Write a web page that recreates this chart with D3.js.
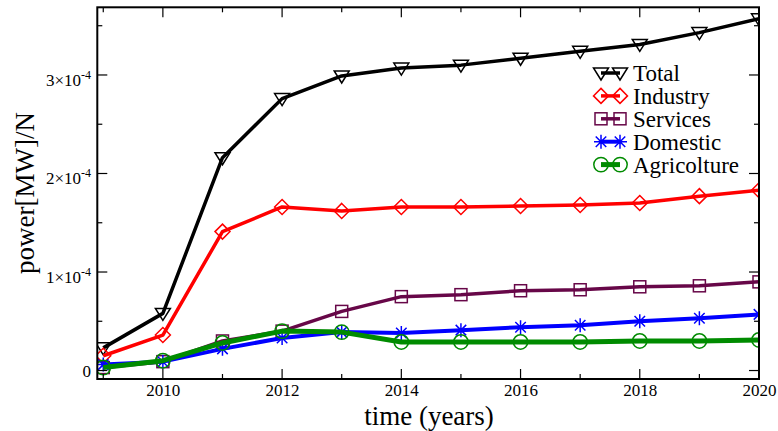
<!DOCTYPE html>
<html>
<head>
<meta charset="utf-8">
<script src="https://cdn.jsdelivr.net/npm/d3@7"></script>
<style>
  html, body { margin: 0; padding: 0; background: #fff; }
  svg { display: block; font-family: "Liberation Serif", "DejaVu Serif", serif; }
  svg text { font-family: "Liberation Serif", "DejaVu Serif", serif; }
</style>
</head>
<body>
<svg id="chart" width="778" height="431"></svg>
<script>
// ---- data ----
const years = [2009, 2010, 2011, 2012, 2013, 2014, 2015, 2016, 2017, 2018, 2019, 2020];
const total       = [0.23e-4, 0.58e-4, 2.16e-4, 2.76e-4, 2.99e-4, 3.07e-4, 3.10e-4, 3.17e-4, 3.24e-4, 3.31e-4, 3.43e-4, 3.57e-4];
const industry    = [0.15e-4, 0.36e-4, 1.41e-4, 1.66e-4, 1.62e-4, 1.66e-4, 1.66e-4, 1.67e-4, 1.68e-4, 1.70e-4, 1.77e-4, 1.83e-4];
const services    = [0.03e-4, 0.09e-4, 0.30e-4, 0.40e-4, 0.60e-4, 0.75e-4, 0.77e-4, 0.81e-4, 0.82e-4, 0.85e-4, 0.86e-4, 0.90e-4];
const domestic    = [0.06e-4, 0.09e-4, 0.22e-4, 0.33e-4, 0.39e-4, 0.38e-4, 0.41e-4, 0.44e-4, 0.46e-4, 0.50e-4, 0.53e-4, 0.57e-4];
const agricolture = [0.03e-4, 0.10e-4, 0.28e-4, 0.40e-4, 0.39e-4, 0.29e-4, 0.29e-4, 0.29e-4, 0.29e-4, 0.30e-4, 0.30e-4, 0.31e-4];
const seriesNames = ["Total", "Industry", "Services", "Domestic", "Agricolture"];
const xTickValues = [2010, 2012, 2014, 2016, 2018, 2020];
const yTickValues = [0, 1e-4, 2e-4, 3e-4];
const yTickLabels = [["0", ""], ["1\u00d710", "-4"], ["2\u00d710", "-4"], ["3\u00d710", "-4"]];
const xTitle = "time (years)";
const yTitle = "power[MW]/N";

// ---- styles ----
const styles = {
  Total:       { color: "#000000", width: 3.5, symbol: "triangle" },
  Industry:    { color: "#ff0000", width: 3.5, symbol: "diamond" },
  Services:    { color: "#670748", width: 3.5, symbol: "square" },
  Domestic:    { color: "#0000ff", width: 4,   symbol: "star" },
  Agricolture: { color: "#008b00", width: 5,   symbol: "circle" }
};
const seriesData = { Total: total, Industry: industry, Services: services, Domestic: domestic, Agricolture: agricolture };

const svg = d3.select("#chart");
const L = 97.3, R = 759, T = 7.3, B = 379;
const x = d3.scaleLinear().domain([2008.9, 2020]).range([L, R]);
const y = d3.scaleLinear().domain([-0.086e-4, 3.687e-4]).range([B, T]);

// symbols
function drawSymbol(g, type, cx, cy, color) {
  const sw = 1.5;
  if (type === "triangle") {
    g.append("path").attr("d", `M${cx-7.5},${cy-5}L${cx+7.5},${cy-5}L${cx},${cy+7}Z`)
      .attr("fill", "none").attr("stroke", color).attr("stroke-width", sw);
  } else if (type === "diamond") {
    g.append("path").attr("d", `M${cx},${cy-7.5}L${cx+7.5},${cy}L${cx},${cy+7.5}L${cx-7.5},${cy}Z`)
      .attr("fill", "none").attr("stroke", color).attr("stroke-width", sw);
  } else if (type === "square") {
    g.append("rect").attr("x", cx-6).attr("y", cy-6).attr("width", 12).attr("height", 12)
      .attr("fill", "none").attr("stroke", color).attr("stroke-width", sw);
  } else if (type === "circle") {
    g.append("circle").attr("cx", cx).attr("cy", cy).attr("r", 7.2)
      .attr("fill", "none").attr("stroke", color).attr("stroke-width", sw);
  } else if (type === "star") {
    const r = 7, d = r * 0.75;
    g.append("path").attr("d",
      `M${cx-r},${cy}L${cx+r},${cy}M${cx},${cy-r}L${cx},${cy+r}M${cx-d},${cy-d}L${cx+d},${cy+d}M${cx-d},${cy+d}L${cx+d},${cy-d}`)
      .attr("fill", "none").attr("stroke", color).attr("stroke-width", sw);
  }
}

// clip
svg.append("defs").append("clipPath").attr("id", "clip")
  .append("rect").attr("x", L).attr("y", T).attr("width", R - L).attr("height", B - T);

const plot = svg.append("g").attr("clip-path", "url(#clip)");
const line = d3.line().x((d, i) => x(years[i])).y(d => y(d));

seriesNames.forEach(name => {
  const st = styles[name];
  const vals = seriesData[name];
  plot.append("path").datum(vals).attr("d", line)
    .attr("fill", "none").attr("stroke", st.color).attr("stroke-width", st.width)
    .attr("stroke-linejoin", "round");
  const g = plot.append("g");
  vals.forEach((v, i) => drawSymbol(g, st.symbol, x(years[i]), y(v), st.color));
});

// frame
svg.append("rect").attr("x", L).attr("y", T).attr("width", R - L).attr("height", B - T)
  .attr("fill", "none").attr("stroke", "#000").attr("stroke-width", 2);

// axes with inward ticks
const minorX = d3.range(2009, 2021, 1);
const minorY = d3.range(0, 3.7e-4, 0.5e-4);
const ax = svg.append("g").attr("stroke", "#000").attr("stroke-width", 1.2);
minorX.forEach(v => {
  const major = xTickValues.includes(v);
  const len = major ? 10 : 5;
  ax.append("line").attr("x1", x(v)).attr("x2", x(v)).attr("y1", B).attr("y2", B - len);
  ax.append("line").attr("x1", x(v)).attr("x2", x(v)).attr("y1", T).attr("y2", T + len);
});
minorY.forEach(v => {
  const major = yTickValues.some(t => Math.abs(t - v) < 1e-9);
  const len = major ? 10 : 5;
  ax.append("line").attr("x1", L).attr("x2", L + len).attr("y1", y(v)).attr("y2", y(v));
  ax.append("line").attr("x1", R).attr("x2", R - len).attr("y1", y(v)).attr("y2", y(v));
});

// x tick labels via d3 axis (text only)
const xAxis = d3.axisBottom(x).tickValues(xTickValues).tickFormat(d3.format("d")).tickSize(0).tickPadding(0);
const xg = svg.append("g").attr("transform", `translate(0,${B})`).call(xAxis);
xg.attr("font-family", "Liberation Serif").attr("font-size", 17);
xg.select(".domain").remove();
xg.selectAll("text").attr("font-size", 17).attr("fill", "#000")
  .attr("dy", null).attr("y", 16.5);

// y tick labels
yTickValues.forEach((v, i) => {
  const [base, sup] = yTickLabels[i];
  const t = svg.append("text").attr("x", 91).attr("y", y(v) + (sup ? 11 : 6))
    .attr("text-anchor", "end").attr("font-size", 17).attr("fill", "#000");
  t.append("tspan").text(base);
  if (sup) t.append("tspan").attr("font-size", 12).attr("dy", -7).text(sup);
});

// axis titles
svg.append("text").attr("x", 429).attr("y", 425).attr("text-anchor", "middle")
  .attr("font-size", 27).attr("fill", "#000").text(xTitle);
svg.append("text").attr("transform", `translate(34,193) rotate(-90)`).attr("text-anchor", "middle")
  .attr("font-size", 27).attr("fill", "#000").text(yTitle);

// legend
const lg = svg.append("g");
seriesNames.forEach((name, i) => {
  const st = styles[name];
  const cy = 73 + i * 22.9;
  lg.append("line").attr("x1", 601).attr("x2", 620).attr("y1", cy).attr("y2", cy)
    .attr("stroke", st.color).attr("stroke-width", st.width);
  drawSymbol(lg, st.symbol, 601, cy, st.color);
  drawSymbol(lg, st.symbol, 620, cy, st.color);
  lg.append("text").attr("x", 633).attr("y", cy + 8).attr("font-size", 23).attr("fill", "#000").text(name);
});
</script>
</body>
</html>
